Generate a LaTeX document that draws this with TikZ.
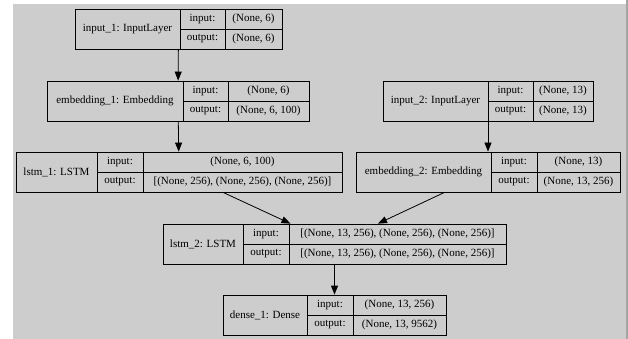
\documentclass[tikz,border=0pt]{standalone}
\usepackage{fontspec}
\setmainfont{Liberation Serif}
\usetikzlibrary{arrows.meta}
\definecolor{panel}{RGB}{205,205,205}
\definecolor{rim}{RGB}{165,165,165}
\tikzset{
  box/.style={draw, line width=0.8pt, inner sep=0pt},
  txt/.style={inner sep=0pt, font=\fontsize{11}{13}\selectfont},
}
% #1 name, #2 left, #3 first divider, #4 second divider, #5 right, #6 top,
% #7 layer text, #8 input shape, #9 output shape
\newcommand{\layerbox}[9]{
  \node[box, minimum width={(#5-#2)*1pt}, minimum height=40pt] (#1) at ({(#2+#5)/2}, #6+20) {};
  \draw[line width=0.8pt] (#3, #6) -- (#3, #6+40) (#4, #6) -- (#4, #6+40) (#3, #6+20) -- (#5, #6+20);
  \node[txt] (#1-name) at ({(#2+#3)/2}, #6+20) {#7};
  \node[txt] (#1-inl) at ({(#3+#4)/2}, #6+10) {input:};
  \node[txt] (#1-outl) at ({(#3+#4)/2}, #6+30) {output:};
  \node[txt] (#1-in) at ({(#4+#5)/2}, #6+10) {#8};
  \node[txt] (#1-out) at ({(#4+#5)/2}, #6+30) {#9};
}
\begin{document}
\begin{tikzpicture}[x=1pt, y=-1pt, >={Triangle[length=9pt, width=7pt]}, line width=0.8pt]
  \useasboundingbox (0, 0) rectangle (628, 339);
  \fill[white] (0, 0) rectangle (628, 339);
  \fill[panel] (13, 4) rectangle (626, 339);
  \fill[rim] (626, 0) rectangle (628, 339);

  \layerbox{in1}{75}{180}{225}{282}{9}{input\_1: InputLayer}{(None, 6)}{(None, 6)}
  \layerbox{emb1}{47}{183}{228}{309}{81}{embedding\_1: Embedding}{(None, 6)}{(None, 6, 100)}
  \layerbox{in2}{383}{488}{533}{593}{81}{input\_2: InputLayer}{(None, 13)}{(None, 13)}
  \layerbox{lstm1}{16}{97}{143}{342}{152}{lstm\_1: LSTM}{(None, 6, 100)}{[(None, 256), (None, 256), (None, 256)]}
  \layerbox{emb2}{356}{491}{537}{620}{152}{embedding\_2: Embedding}{(None, 13)}{(None, 13, 256)}
  \layerbox{lstm2}{163}{243}{289}{506}{224}{lstm\_2: LSTM}{[(None, 13, 256), (None, 256), (None, 256)]}{[(None, 13, 256), (None, 256), (None, 256)]}
  \layerbox{dense1}{223}{307}{353}{446}{295}{dense\_1: Dense}{(None, 13, 256)}{(None, 13, 9562)}

  \draw[->] (in1) -- (emb1);
  \draw[->] (emb1) -- (lstm1);
  \draw[->] (in2) -- (emb2);
  \draw[->] (lstm1) -- (lstm2);
  \draw[->] (emb2) -- (lstm2);
  \draw[->] (lstm2) -- (dense1);
\end{tikzpicture}
\end{document}
